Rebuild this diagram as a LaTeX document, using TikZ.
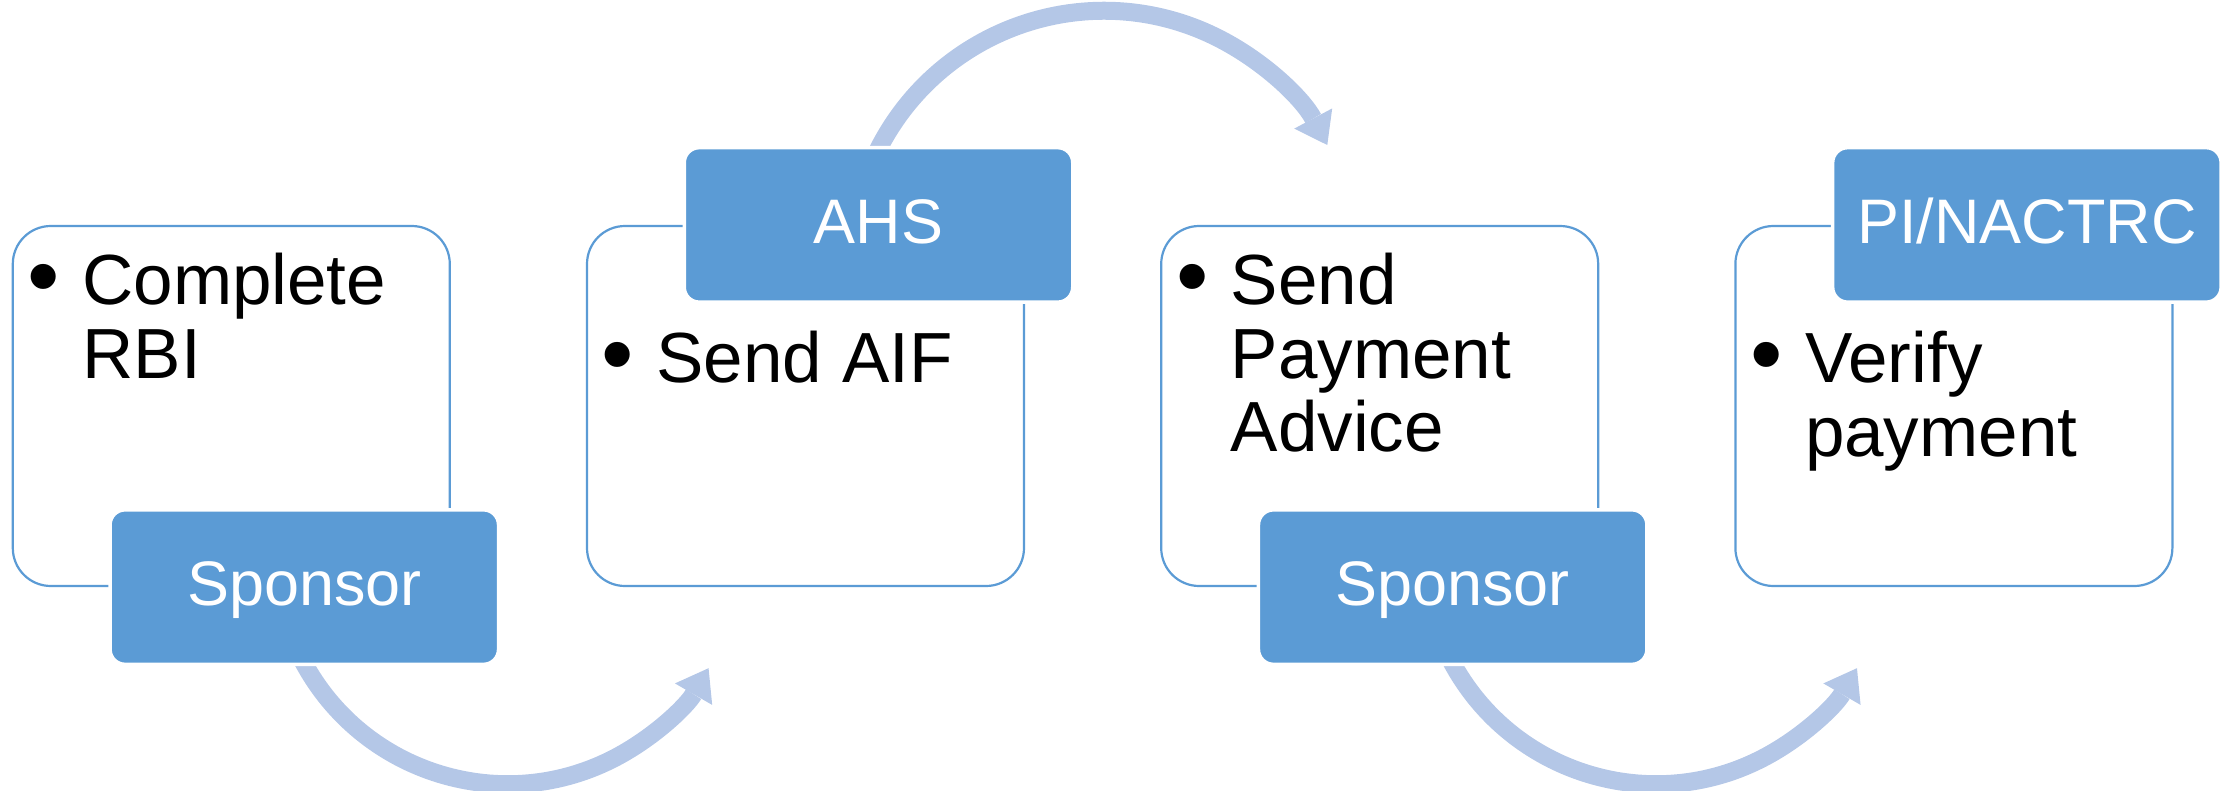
\documentclass[tikz,border=0pt]{standalone}
\usepackage{fontspec}
\setmainfont{Liberation Sans}
\usepackage{tikz}
\usetikzlibrary{
  positioning,
  arrows.meta
}
\definecolor{tagblue}{HTML}{5B9BD5}
\definecolor{flowblue}{HTML}{B4C7E7}
\tikzstyle{card}=[draw=tagblue, line width=0.022cm, fill=white, rounded corners=0.38cm, minimum width=4.37cm, minimum height=3.60cm, inner sep=0]
\tikzstyle{tag}=[draw=white, line width=0.035cm, fill=tagblue, rounded corners=0.15cm, minimum width=3.885cm, minimum height=1.545cm, inner sep=0, text=white, text height=0.45cm, text depth=0.08cm, font=\fontsize{17.9}{17.9}\selectfont]
\tikzstyle{itemtext}=[anchor=base west, inner sep=0, font=\fontsize{20.2}{20.9}\selectfont]
\tikzstyle{flow}=[draw=flowblue, line width=0.18cm, -{Triangle[length=0.30cm, width=0.43cm, line width=0pt]}]
\newcommand{\itembullet}{\leavevmode\llap{\makebox[0.77cm]{\raisebox{-0.03cm}{\scalebox{1.3}{\textbullet}}}}}
\pgfdeclarelayer{back}
\pgfsetlayers{back,main}

\begin{document}
\begin{tikzpicture}
    \def\gap{1.35cm};
    \useasboundingbox (0,0) rectangle (22.33,7.90);

    % 白いカード
    \begin{pgfonlayer}{back}
      \node[card] (c1) at (2.313,3.84) {};
      \node[card, right=\gap of c1] (c2) {};
      \node[card, right=\gap of c2] (c3) {};
      \node[card, right=\gap of c3] (c4) {};
    \end{pgfonlayer}

    % 担当者のタグ
    \node[tag] (s1) at ([xshift=0.73cm]c1.south) {Sponsor};
    \node[tag] (a2) at ([xshift=0.73cm]c2.north) {AHS};
    \node[tag] (s3) at ([xshift=0.73cm]c3.south) {Sponsor};
    \node[tag] (p4) at ([xshift=0.73cm]c4.north) {PI/NACTRC};

    % 流れの矢印
    \begin{pgfonlayer}{back}
      \draw[flow] ([xshift=-0.015cm, yshift=0.05cm]s1.south) arc[start angle=208, end angle=330, radius=2.32cm];
      \draw[flow] ([xshift=-0.01cm, yshift=-0.05cm]a2.north) arc[start angle=153.5, end angle=28, radius=2.53cm];
      \draw[flow] ([xshift=-0.015cm, yshift=0.05cm]s3.south) arc[start angle=208, end angle=330, radius=2.32cm];
    \end{pgfonlayer}

    % 各ステップの内容
    \node[itemtext] (t1) at ([xshift=0.70cm, yshift=-0.80cm]c1.north west) {\parbox[t]{3.5cm}{\raggedright\itembullet Complete\\RBI}};
    \node[itemtext] (t2) at ([xshift=0.70cm, yshift=-1.58cm]c2.north west) {\parbox[t]{3.5cm}{\raggedright\itembullet Send AIF}};
    \node[itemtext] (t3) at ([xshift=0.70cm, yshift=-0.80cm]c3.north west) {\parbox[t]{3.5cm}{\raggedright\itembullet Send\\Payment\\Advice}};
    \node[itemtext] (t4) at ([xshift=0.70cm, yshift=-1.58cm]c4.north west) {\parbox[t]{3.5cm}{\raggedright\itembullet Verify\\payment}};
\end{tikzpicture}
\end{document}
